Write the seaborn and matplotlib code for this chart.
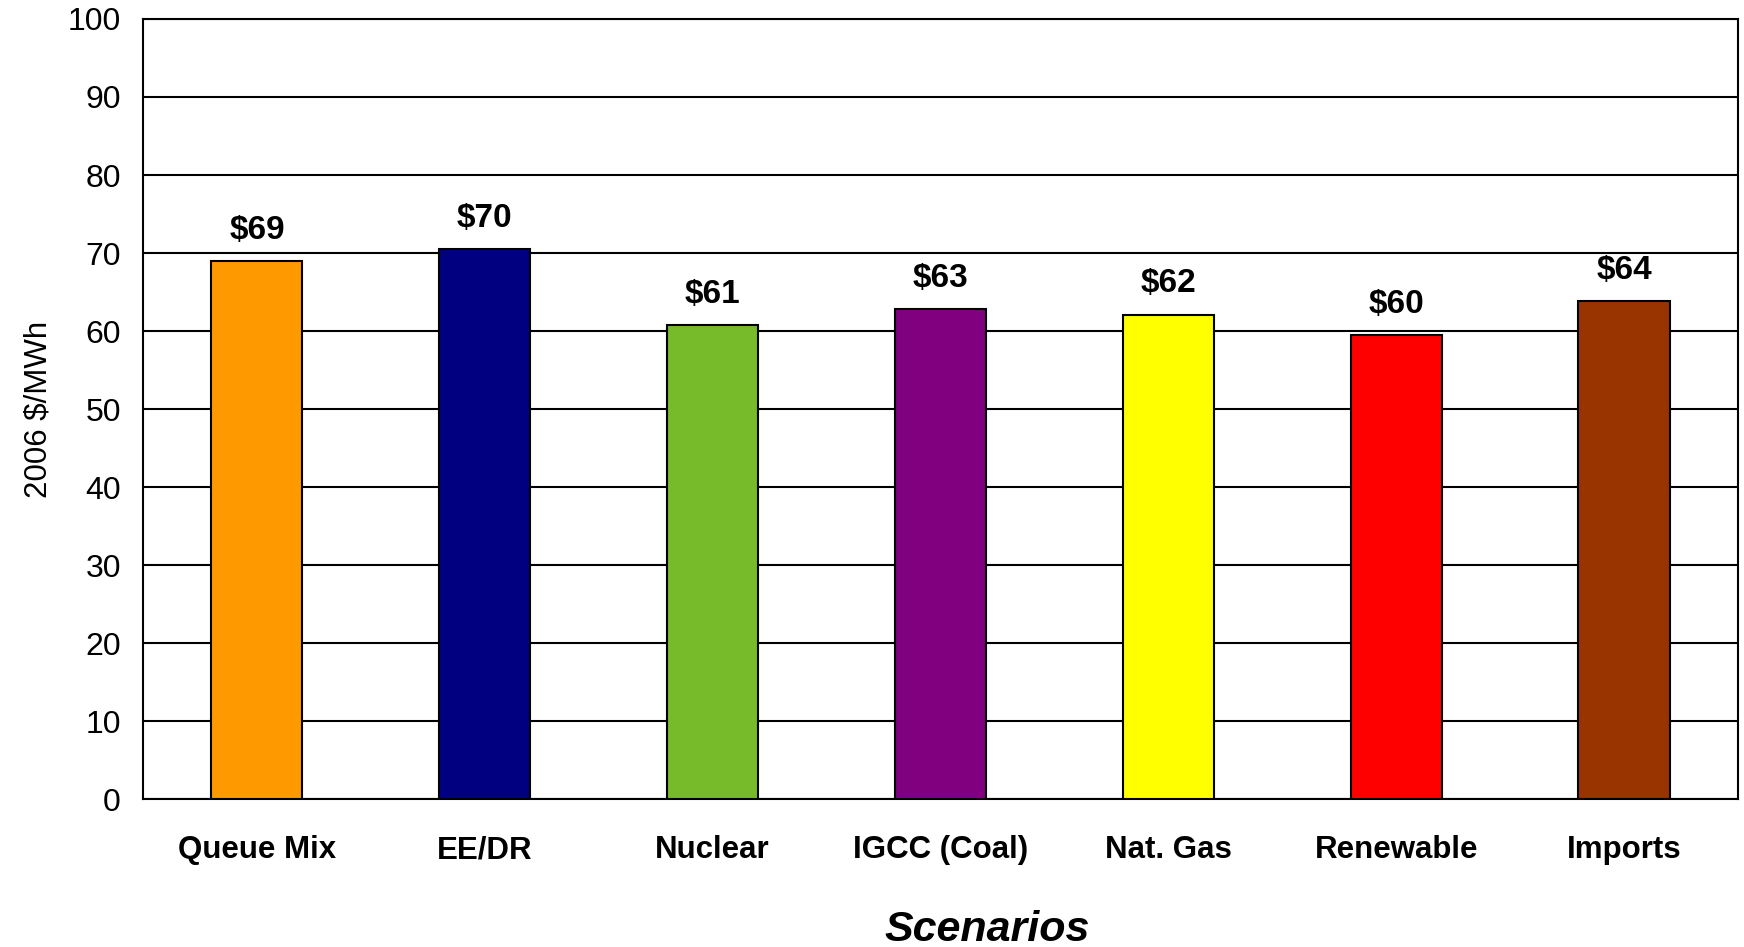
import pandas as pd
import seaborn as sns
import matplotlib.pyplot as plt
import numpy as np

# Scenario costs (2006 $/MWh)
scenarios = ['Queue Mix', 'EE/DR', 'Nuclear', 'IGCC (Coal)', 'Nat. Gas', 'Renewable', 'Imports']
costs = [69.0, 70.5, 60.8, 62.8, 62.1, 59.5, 63.8]
bar_colors = ['#FF9900', '#000080', '#77BB2B', '#800080', '#FFFF00', '#FF0000', '#993300']
y_ticks = list(range(0, 101, 10))

df = pd.DataFrame({'Scenario': scenarios, 'Cost': costs})

sns.set_style('white')
plt.rcParams['font.family'] = ['Liberation Sans', 'DejaVu Sans']
plt.rcParams['text.color'] = 'black'
plt.rcParams['axes.labelcolor'] = 'black'
plt.rcParams['xtick.color'] = 'black'
plt.rcParams['ytick.color'] = 'black'

fig = plt.figure(figsize=(17.44, 9.47), dpi=100)
ax = fig.add_axes([0.082, 0.156, 0.9145, 0.824])

sns.barplot(data=df, x='Scenario', y='Cost', hue='Scenario', palette=bar_colors,
            saturation=1, width=0.40, edgecolor='black', linewidth=1.5,
            legend=False, ax=ax, zorder=3)

# value labels above bars
for cont in ax.containers:
    ax.bar_label(cont, labels=['$' + format(v, '.0f') for v in cont.datavalues],
                 padding=11, fontsize=24, fontweight='bold', color='black')

ax.set_ylim(0, 100)
ax.set_xlim(-0.5, len(scenarios) - 0.5)
ax.set_yticks(y_ticks)
ax.yaxis.grid(True, color='black', linewidth=1.5, zorder=0)
ax.set_axisbelow(True)

# category ticks sit between bars
ax.set_xticks(np.arange(len(scenarios)))
ax.set_xticklabels(scenarios, fontsize=22.5, fontweight='bold')
ax.set_xticks(np.arange(-0.5, len(scenarios)), minor=True)
ax.tick_params(axis='x', which='major', length=0, pad=26)
ax.tick_params(axis='x', which='minor', length=10, width=1.5, direction='out')
ax.tick_params(axis='y', length=10, width=1.5, direction='out', labelsize=23, pad=6)

for sp in ax.spines.values():
    sp.set_color('black')
    sp.set_linewidth(1.5)

ax.set_xlabel('Scenarios', fontsize=31, fontweight='bold', fontstyle='italic', labelpad=32)
ax.xaxis.label.set_x(0.529)  # title sits a bit right of centre in the original
ax.set_ylabel('2006 $/MWh', fontsize=22.5, labelpad=10)

fig.savefig('out.png', dpi=100)
